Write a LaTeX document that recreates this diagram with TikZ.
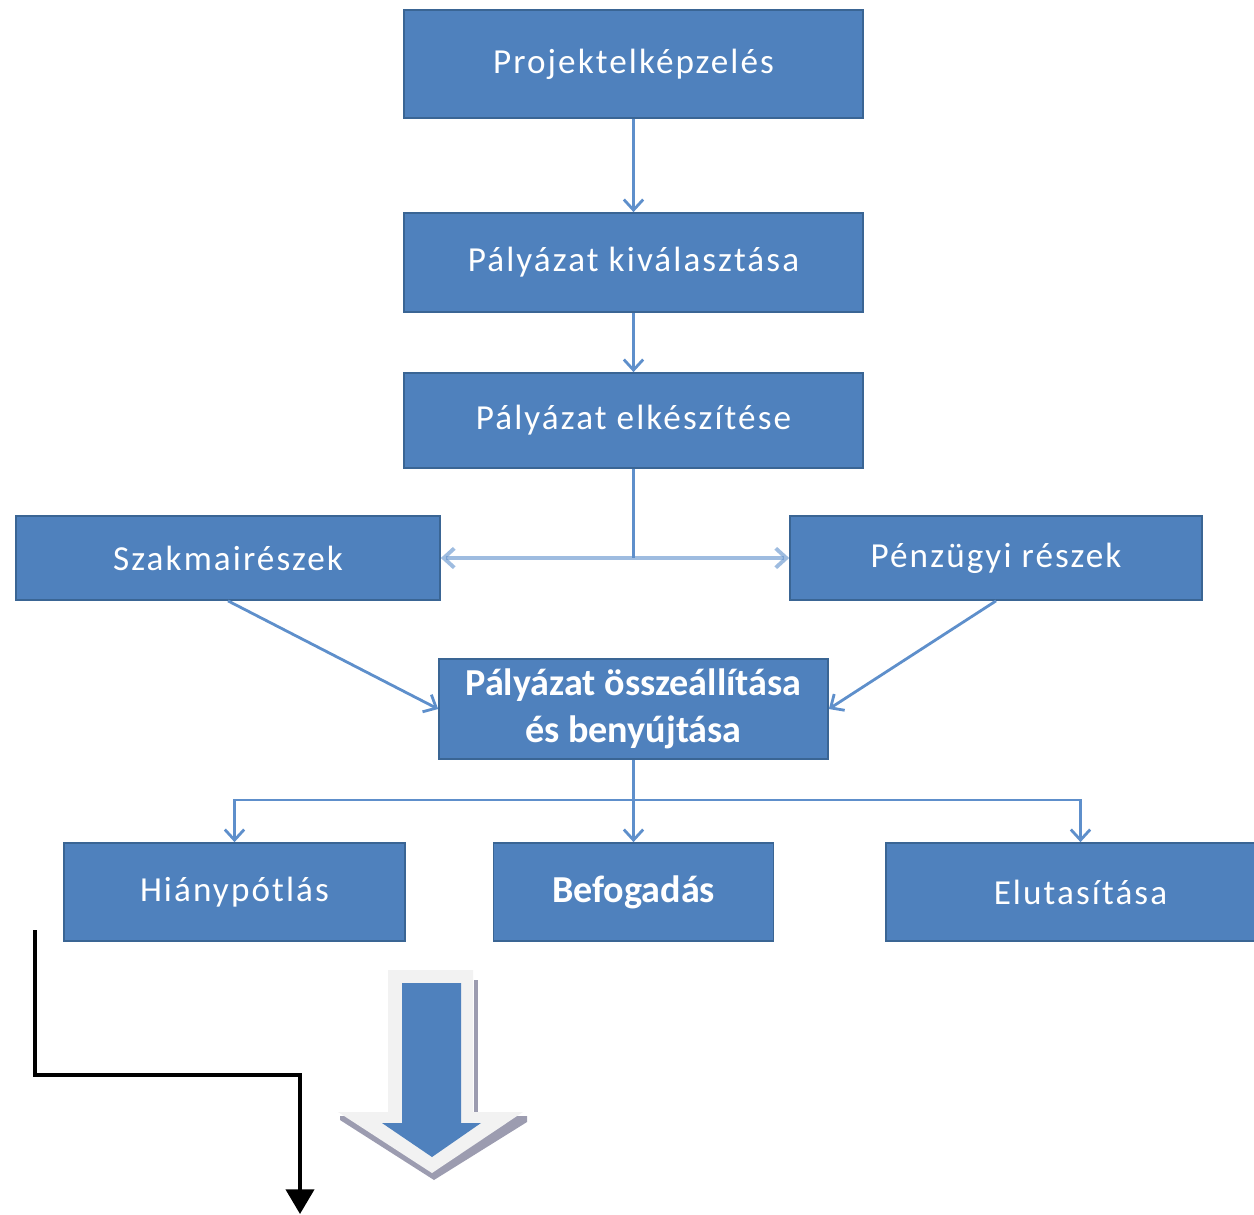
\documentclass[tikz,border=0pt]{standalone}
\usepackage{fontspec}
\setmainfont{Carlito}
\newfontfamily\regfont[LetterSpace=6]{Carlito}
\usetikzlibrary{arrows.meta}
\definecolor{boxblue}{HTML}{4F81BD}
\definecolor{boxedge}{HTML}{3A6594}
\definecolor{linkblue}{HTML}{5E8FCB}
\definecolor{arrowgray}{HTML}{F2F2F2}
\definecolor{shadowgray}{HTML}{9C9CB0}
\tikzset{
  stepbox/.style={draw=boxedge, line width=1pt, fill=boxblue, text=white,
    inner sep=0pt, align=center, font=\regfont\fontsize{20}{24}\selectfont},
  boldbox/.style={stepbox, font=\bfseries\fontsize{21.7}{26.6}\selectfont},
  link/.style={draw=linkblue, line width=1.6pt, -{Straight Barb[length=6pt,width=11pt]}},
  linkplain/.style={draw=linkblue, line width=1.6pt},
  blackline/.style={draw=black, line width=2pt, -{Triangle[length=14pt,width=16pt]}}
}
\begin{document}
\begin{tikzpicture}[x=0.02cm,y=-0.02cm]
\useasboundingbox (0,0) rectangle (1254,1214);
% boxes
\node[stepbox, minimum width=9.18cm, minimum height=2.16cm] (p1) at (633.5,64) {Projektelképzelés};
\node[stepbox, minimum width=9.18cm, minimum height=1.98cm] (p2) at (633.5,262.5) {Pályázat kiválasztása};
\node[stepbox, minimum width=9.18cm, minimum height=1.9cm] (p3) at (633.5,420.5) {Pályázat elkészítése};
\node[stepbox, minimum width=8.48cm, minimum height=1.68cm] (sz) at (228,558) {Szakmairészek};
\node[stepbox, minimum width=8.24cm, minimum height=1.68cm] (pe) at (996,558) {Pénzügyi részek};
\node[boldbox, minimum width=7.78cm, minimum height=2.0cm] (os) at (633.5,709) {Pályázat összeállítása\\és benyújtása};
\node[stepbox, minimum width=6.82cm, minimum height=1.96cm] (hi) at (234.5,892) {Hiánypótlás};
\node[boldbox, minimum width=5.6cm, minimum height=1.96cm] (be) at (633.5,892) {Befogadás};
\node[stepbox, minimum width=7.78cm, minimum height=1.96cm] (el) at (1080.5,892) {Elutasítása};
% connectors
\coordinate (j1) at (633.5,558);
\coordinate (j2) at (633.5,800);
\draw[link] (p1) -- (p2);
\draw[link] (p2) -- (p3);
\draw[linkplain] (p3.south) -- (j1);
\draw[link, draw opacity=0.6, line width=2.2pt] (j1) -- (sz.east);
\draw[link, draw opacity=0.6, line width=2.2pt] (j1) -- (pe.west);
\draw[link] (sz.south) -- (os.west);
\draw[link] (pe.south) -- (os.east);
\draw[linkplain] (os.south) -- (j2);
\draw[link] (j2) -| (hi.north);
\draw[link] (j2) -- (be.north);
\draw[link] (j2) -| (el.north);
% black connector
\coordinate (b1) at (35,930);
\coordinate (bk) at (35,1075);
\coordinate (b2) at (300,1214);
\draw[blackline] (b1) -- (bk) -| (b2);
% big block arrow
\fill[shadowgray] (474,980) rectangle (478,1112);
\fill[shadowgray] (340,1116) -- (527,1116) -- (527,1122) -- (434,1180) -- (340,1120) -- cycle;
\fill[arrowgray] (388,970) -- (473,970) -- (473,1112) -- (523,1112) -- (432,1173) -- (338,1112) -- (388,1112) -- cycle;
\fill[boxblue] (402,983) -- (461,983) -- (461,1123) -- (481,1123) -- (432,1157) -- (382,1123) -- (402,1123) -- cycle;
\end{tikzpicture}
\end{document}
